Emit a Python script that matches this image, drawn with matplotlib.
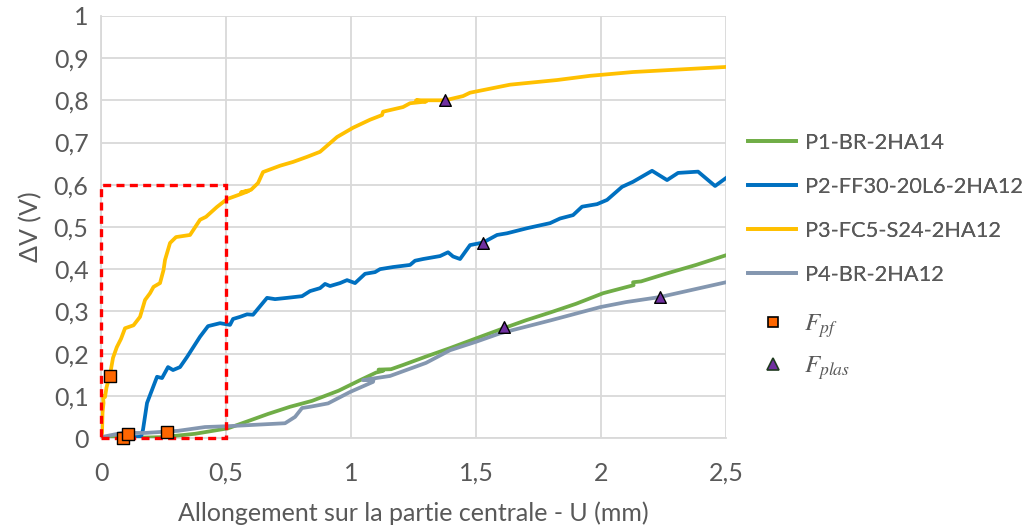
import numpy as np
import matplotlib.pyplot as plt
from matplotlib.patches import Rectangle
from matplotlib.lines import Line2D

plt.rcParams['font.family'] = ['Lato', 'DejaVu Sans']
plt.rcParams['mathtext.fontset'] = 'stix'

# --- data ---
p1_x = [0.0, 0.08, 0.244, 0.376, 0.508, 0.588, 0.668, 0.756, 0.844, 0.95, 1.036, 1.10, 1.128,
        1.11, 1.16, 1.208, 1.30, 1.396, 1.50, 1.61, 1.70, 1.80, 1.90, 2.008, 2.13, 2.128,
        2.16, 2.264, 2.38, 2.5]
p1_y = [0.0, 0.0, 0.002, 0.01, 0.023, 0.04, 0.057, 0.074, 0.088, 0.112, 0.137, 0.155, 0.159,
        0.162, 0.163, 0.173, 0.193, 0.213, 0.236, 0.26, 0.279, 0.298, 0.318, 0.343, 0.362, 0.369,
        0.371, 0.39, 0.41, 0.433]

p2_x = [0.08, 0.16, 0.168, 0.184, 0.224, 0.244, 0.268, 0.288, 0.316, 0.344, 0.396, 0.428, 0.476,
        0.516, 0.528, 0.556, 0.584, 0.608, 0.664, 0.696, 0.744, 0.804, 0.836, 0.876, 0.896, 0.916,
        0.956, 0.984, 1.016, 1.056, 1.096, 1.116, 1.168, 1.236, 1.256, 1.288, 1.356, 1.388, 1.408,
        1.436, 1.476, 1.528, 1.584, 1.624, 1.704, 1.796, 1.836, 1.888, 1.924, 1.984, 2.024, 2.084,
        2.128, 2.204, 2.264, 2.308, 2.388, 2.456, 2.5]
p2_y = [0.0, 0.003, 0.02, 0.083, 0.145, 0.142, 0.168, 0.161, 0.168, 0.192, 0.24, 0.265, 0.272,
        0.268, 0.282, 0.287, 0.293, 0.292, 0.332, 0.329, 0.332, 0.336, 0.348, 0.355, 0.365, 0.36,
        0.367, 0.374, 0.367, 0.389, 0.393, 0.40, 0.405, 0.41, 0.42, 0.424, 0.431, 0.44, 0.43,
        0.424, 0.457, 0.463, 0.481, 0.485, 0.497, 0.509, 0.52, 0.528, 0.548, 0.554, 0.564, 0.595,
        0.607, 0.633, 0.611, 0.628, 0.631, 0.597, 0.616]

p3_x = [0.0, 0.004, 0.006, 0.01, 0.008, 0.016, 0.022, 0.036, 0.042, 0.048, 0.063, 0.08, 0.096,
        0.13, 0.156, 0.176, 0.196, 0.21, 0.236, 0.25, 0.256, 0.276, 0.30, 0.356, 0.396, 0.42,
        0.463, 0.504, 0.56, 0.59, 0.56, 0.60, 0.628, 0.648, 0.716, 0.768, 0.824, 0.876, 0.944,
        1.008, 1.076, 1.124, 1.128, 1.208, 1.236, 1.30, 1.26, 1.376, 1.448, 1.476, 1.636, 1.824,
        1.956, 2.128, 2.5]
p3_y = [0.0, 0.012, 0.06, 0.083, 0.10, 0.097, 0.12, 0.15, 0.17, 0.19, 0.215, 0.235, 0.26,
        0.267, 0.287, 0.327, 0.343, 0.358, 0.367, 0.398, 0.422, 0.462, 0.476, 0.481, 0.517, 0.524,
        0.547, 0.566, 0.578, 0.585, 0.582, 0.588, 0.604, 0.63, 0.645, 0.654, 0.666, 0.678, 0.713,
        0.735, 0.754, 0.765, 0.773, 0.784, 0.793, 0.797, 0.80, 0.80, 0.81, 0.818, 0.837, 0.848,
        0.858, 0.867, 0.879]

p4_x = [0.0, 0.084, 0.176, 0.308, 0.416, 0.508, 0.736, 0.776, 0.804, 0.836, 0.908, 0.996, 1.088,
        1.09, 1.048, 1.10, 1.156, 1.30, 1.396, 1.50, 1.596, 1.80, 1.996, 2.10, 2.236, 2.5]
p4_y = [0.002, 0.012, 0.012, 0.017, 0.026, 0.028, 0.035, 0.05, 0.071, 0.074, 0.082, 0.109, 0.133,
        0.139, 0.137, 0.142, 0.147, 0.178, 0.208, 0.228, 0.248, 0.279, 0.31, 0.322, 0.334, 0.369]

fpf_x = [0.036, 0.088, 0.108, 0.264]
fpf_y = [0.147, 0.0, 0.01, 0.014]

fplas_x = [1.376, 1.528, 1.61, 2.236]
fplas_y = [0.80, 0.463, 0.262, 0.334]

box_x = [0.0, 0.5]
box_y = [0.0, 0.6]

labels = ['P1-BR-2HA14', 'P2-FF30-20L6-2HA12', 'P3-FC5-S24-2HA12', 'P4-BR-2HA12']
colors = ['#70AD47', '#0070C0', '#FFC000', '#8497B0']

x_ticks = [0, 0.5, 1, 1.5, 2, 2.5]
y_ticks = [0, 0.1, 0.2, 0.3, 0.4, 0.5, 0.6, 0.7, 0.8, 0.9, 1.0]

txt = '#595959'
grid_c = '#D9D9D9'

fig = plt.figure(figsize=(10.34, 5.29), dpi=100)
ax = fig.add_axes([0.0977, 0.172, 0.6045, 0.798])

series = [(p1_x, p1_y), (p2_x, p2_y), (p3_x, p3_y), (p4_x, p4_y)]
handles = []
for (sx, sy), lab, c in zip(series, labels, colors):
    h, = ax.plot(sx, sy, color=c, lw=2.7, label=lab, solid_joinstyle='round', zorder=3)
    handles.append(h)
# grey on top of green like in the reference
handles[3].set_zorder(3.5)

ax.add_patch(Rectangle((box_x[0], box_y[0]), box_x[1] - box_x[0], box_y[1] - box_y[0],
                       fill=False, edgecolor='#FF0000', lw=2.4, linestyle=(0, (2.4, 1.6)),
                       zorder=4, clip_on=False))

ax.scatter(fpf_x, fpf_y, marker='s', s=70, color='#FF6600', edgecolor='black', lw=1.0,
           zorder=5, clip_on=False)
ax.scatter(fplas_x, fplas_y, marker='^', s=70, color='#7030A0', edgecolor='black', lw=1.0,
           zorder=5, clip_on=False)

ax.set_xlim(0, 2.5)
ax.set_ylim(0, 1)
ax.set_xticks(x_ticks)
ax.set_yticks(y_ticks)
ax.set_xticklabels([('%g' % v).replace('.', ',') for v in x_ticks])
ax.set_yticklabels([('%g' % v).replace('.', ',') for v in y_ticks])
ax.tick_params(length=0, labelsize=18, labelcolor=txt)
ax.tick_params(axis='x', pad=17)
ax.tick_params(axis='y', pad=9)
ax.grid(True, color=grid_c, lw=1.3)
ax.set_axisbelow(True)
for side in ['top', 'right']:
    ax.spines[side].set_visible(False)
for side in ['left', 'bottom']:
    ax.spines[side].set_color(grid_c)
    ax.spines[side].set_linewidth(1.3)

ax.set_xlabel('Allongement sur la partie centrale - U (mm)', fontsize=18, color=txt, labelpad=12)
ax.set_ylabel('ΔV (V)', fontsize=18, color=txt, labelpad=8)

leg1 = fig.legend(handles=handles, loc='upper left', bbox_to_anchor=(0.715, 0.765),
                  frameon=False, fontsize=15.7, labelcolor=txt, handlelength=2.2,
                  handletextpad=0.4, labelspacing=1.1, borderaxespad=0)
fig.add_artist(leg1)
mk = [Line2D([], [], ls='none', marker='s', ms=7, mfc='#FF6600', mec='black', mew=1.2),
      Line2D([], [], ls='none', marker='^', ms=9, mfc='#7030A0', mec='#1F3A1F', mew=1.2)]
fig.legend(handles=mk, labels=[r'$F_{pf}$', r'$F_{plas}$'], loc='upper left',
           bbox_to_anchor=(0.715, 0.43), frameon=False, fontsize=18, labelcolor=txt,
           handlelength=1.9, handletextpad=0.3, labelspacing=0.55, borderaxespad=0)

fig.savefig('out.png', dpi=100)
